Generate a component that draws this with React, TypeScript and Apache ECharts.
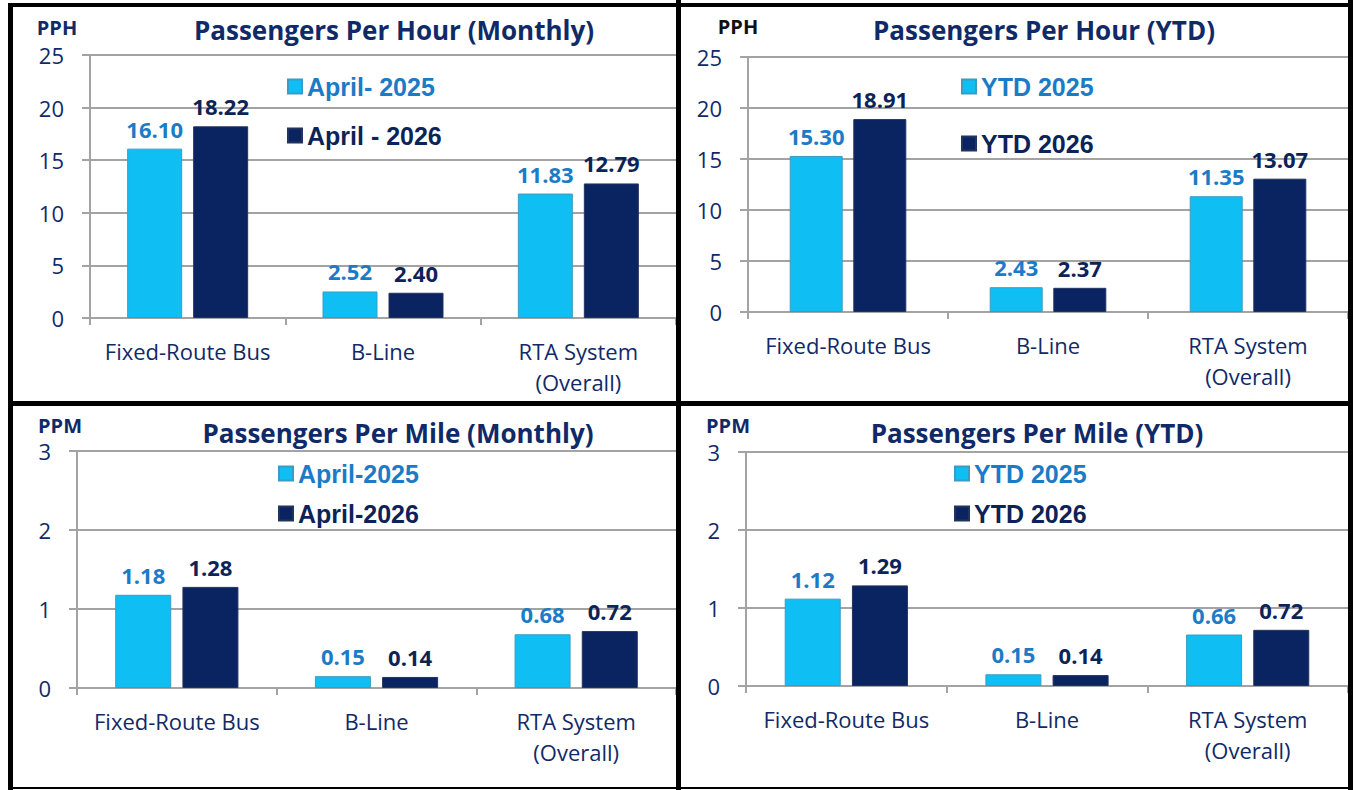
import React, { useEffect, useRef } from 'react';
import * as echarts from 'echarts';

// ---------- data ----------
const categories = ['Fixed-Route Bus', 'B-Line', 'RTA System\n(Overall)'];

const pphMonthly2025 = [16.1, 2.52, 11.83];
const pphMonthly2026 = [18.22, 2.4, 12.79];
const pphYtd2025 = [15.3, 2.43, 11.35];
const pphYtd2026 = [18.91, 2.37, 13.07];
const ppmMonthly2025 = [1.18, 0.15, 0.68];
const ppmMonthly2026 = [1.28, 0.14, 0.72];
const ppmYtd2025 = [1.12, 0.15, 0.66];
const ppmYtd2026 = [1.29, 0.14, 0.72];

const pphTicks = [0, 5, 10, 15, 20, 25];
const ppmTicks = [0, 1, 2, 3];

const chartTitles = [
  'Passengers Per Hour (Monthly)',
  'Passengers Per Hour (YTD)',
  'Passengers Per Mile (Monthly)',
  'Passengers Per Mile (YTD)',
];
const unitLabels = ['PPH', 'PPH', 'PPM', 'PPM'];
const legendNames = [
  ['April- 2025', 'April - 2026'],
  ['YTD 2025', 'YTD 2026'],
  ['April-2025', 'April-2026'],
  ['YTD 2025', 'YTD 2026'],
];
const seriesValues = [
  [pphMonthly2025, pphMonthly2026],
  [pphYtd2025, pphYtd2026],
  [ppmMonthly2025, ppmMonthly2026],
  [ppmYtd2025, ppmYtd2026],
];
const panelTicks = [pphTicks, pphTicks, ppmTicks, ppmTicks];

// ---------- styles / layout ----------
const NAVY = '#102a68';
const LIGHT_BAR = '#0fbff3';
const DARK_BAR = '#0a2462';
const LIGHT_TEXT = '#1c7bc6';
const DARK_TEXT = '#0c2357';
const GRID_GRAY = '#a3a3a3';
const FONT = '"Open Sans", Lato, sans-serif';
const ARIAL = '"Liberation Sans", Arial, sans-serif';

const layout = [
  {
    grid: { left: 90, top: 55, width: 586, height: 263 },
    title: [394, 30],
    unit: [57, 27, NAVY],
    legend: { left: 287, top: 73, gap: 22 },
    barWidth: 55,
  },
  {
    grid: { left: 748, top: 57, width: 600, height: 255 },
    title: [1044, 30],
    unit: [738, 26, '#111111'],
    legend: { left: 961, top: 73, gap: 30 },
    barWidth: 53,
  },
  {
    grid: { left: 77, top: 451, width: 599, height: 237 },
    title: [398, 433],
    unit: [60, 425, NAVY],
    legend: { left: 278, top: 460, gap: 13 },
    barWidth: 56,
  },
  {
    grid: { left: 746, top: 452, width: 602, height: 234 },
    title: [1037, 433],
    unit: [728, 425, NAVY],
    legend: { left: 954, top: 460, gap: 13 },
    barWidth: 56,
  },
];

function buildOption() {
  const grid: any[] = [];
  const xAxis: any[] = [];
  const yAxis: any[] = [];
  const series: any[] = [];
  const legend: any[] = [];
  const graphic: any[] = [];

  layout.forEach((p, i) => {
    const ticks = panelTicks[i];
    grid.push({ ...p.grid, containLabel: false });
    xAxis.push({
      type: 'category',
      gridIndex: i,
      data: categories,
      boundaryGap: true,
      axisLine: { show: true, lineStyle: { color: GRID_GRAY, width: 2 } },
      axisTick: { show: true, length: 7, lineStyle: { color: GRID_GRAY, width: 2 } },
      axisLabel: {
        margin: 17,
        color: NAVY,
        fontFamily: FONT,
        fontSize: 22,
        lineHeight: 31,
        interval: 0,
      },
    });
    yAxis.push({
      type: 'value',
      gridIndex: i,
      min: ticks[0],
      max: ticks[ticks.length - 1],
      interval: ticks[1] - ticks[0],
      axisLine: { show: true, lineStyle: { color: GRID_GRAY, width: 2 } },
      axisTick: { show: true, length: 8, lineStyle: { color: GRID_GRAY, width: 2 } },
      splitLine: { show: true, lineStyle: { color: GRID_GRAY, width: 2 } },
      axisLabel: {
        margin: 26,
        color: NAVY,
        fontFamily: FONT,
        fontSize: 22,
        lineHeight: 18,
      },
    });
    const colors = [LIGHT_BAR, DARK_BAR];
    const borders = ['#3a9cc4', '#22335e'];
    const labelColors = [LIGHT_TEXT, DARK_TEXT];
    seriesValues[i].forEach((vals, k) => {
      series.push({
        type: 'bar',
        name: legendNames[i][k],
        xAxisIndex: i,
        yAxisIndex: i,
        data: vals,
        barWidth: p.barWidth,
        barGap: '20%',
        itemStyle: { color: colors[k], borderColor: borders[k], borderWidth: 1 },
        label: {
          show: true,
          position: 'top',
          distance: 9,
          formatter: (pp: any) => Number(pp.value).toFixed(2),
          color: labelColors[k],
          fontFamily: FONT,
          fontWeight: 'bold',
          fontSize: 22,
        },
      });
    });
    legend.push({
      orient: 'vertical',
      left: p.legend.left,
      top: p.legend.top,
      padding: 0,
      itemGap: p.legend.gap,
      itemWidth: 14,
      itemHeight: 14,
      icon: 'rect',
      selectedMode: false,
      textStyle: { fontFamily: ARIAL, fontWeight: 'bold', fontSize: 25, lineHeight: 27 },
      data: [
        { name: legendNames[i][0], textStyle: { color: LIGHT_TEXT } },
        { name: legendNames[i][1], textStyle: { color: DARK_TEXT } },
      ],
    });
    graphic.push({
      type: 'text',
      x: p.title[0],
      y: p.title[1],
      style: {
        text: chartTitles[i],
        fill: NAVY,
        font: `bold 26px ${FONT}`,
        textAlign: 'center',
        textVerticalAlign: 'middle',
      },
      silent: true,
    });
    graphic.push({
      type: 'text',
      x: p.unit[0],
      y: p.unit[1],
      z: 10,
      style: {
        text: unitLabels[i],
        fill: p.unit[2],
        font: `bold 20px ${FONT}`,
        lineHeight: 20,
        textAlign: 'center',
        textVerticalAlign: 'middle',
      },
      silent: true,
    });
  });

  // panel borders
  const borderRects = [
    [8, 3, 5, 787],
    [8, 3, 1345, 4],
    [676, 0, 5, 790],
    [8, 401, 1345, 5],
    [1348, 0, 5, 790],
    [8, 787, 1345, 2],
  ];
  borderRects.forEach(([x, y, w, h]) => {
    graphic.push({
      type: 'rect',
      shape: { x, y, width: w, height: h },
      style: { fill: '#000000' },
      silent: true,
      z: 20,
    });
  });

  return {
    animation: false,
    backgroundColor: '#ffffff',
    grid,
    xAxis,
    yAxis,
    series,
    legend,
    graphic,
  };
}

export default function App() {
  const ref = useRef<HTMLDivElement>(null);
  useEffect(() => {
    if (!ref.current) return;
    const chart = echarts.init(ref.current, undefined, { renderer: 'svg' });
    chart.setOption(buildOption() as any);
    return () => chart.dispose();
  }, []);
  return (
    <div
      ref={ref}
      style={{ position: 'absolute', left: 0, top: 0, width: 1356, height: 790 }}
    />
  );
}
